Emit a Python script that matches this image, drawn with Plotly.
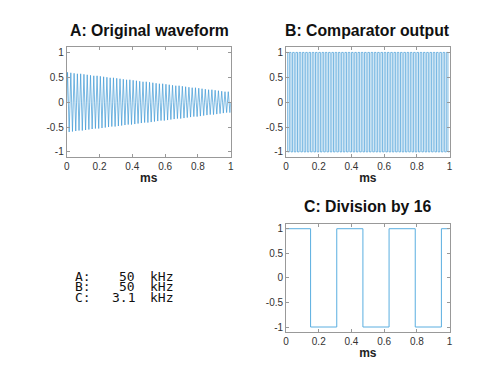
import plotly.graph_objects as go

# ---------------- data ----------------
# comparator edge times (ms): one every half period of a 50 kHz signal
edges_ms = [
    0.00, 0.01, 0.02, 0.03, 0.04, 0.05, 0.06, 0.07, 0.08, 0.09,
    0.10, 0.11, 0.12, 0.13, 0.14, 0.15, 0.16, 0.17, 0.18, 0.19,
    0.20, 0.21, 0.22, 0.23, 0.24, 0.25, 0.26, 0.27, 0.28, 0.29,
    0.30, 0.31, 0.32, 0.33, 0.34, 0.35, 0.36, 0.37, 0.38, 0.39,
    0.40, 0.41, 0.42, 0.43, 0.44, 0.45, 0.46, 0.47, 0.48, 0.49,
    0.50, 0.51, 0.52, 0.53, 0.54, 0.55, 0.56, 0.57, 0.58, 0.59,
    0.60, 0.61, 0.62, 0.63, 0.64, 0.65, 0.66, 0.67, 0.68, 0.69,
    0.70, 0.71, 0.72, 0.73, 0.74, 0.75, 0.76, 0.77, 0.78, 0.79,
    0.80, 0.81, 0.82, 0.83, 0.84, 0.85, 0.86, 0.87, 0.88, 0.89,
    0.90, 0.91, 0.92, 0.93, 0.94, 0.95, 0.96, 0.97, 0.98, 0.99,
    1.00,
]

# comparator output level in each half period
comparator_levels = [
    1, -1, 1, -1, 1, -1, 1, -1, 1, -1,
    1, -1, 1, -1, 1, -1, 1, -1, 1, -1,
    1, -1, 1, -1, 1, -1, 1, -1, 1, -1,
    1, -1, 1, -1, 1, -1, 1, -1, 1, -1,
    1, -1, 1, -1, 1, -1, 1, -1, 1, -1,
    1, -1, 1, -1, 1, -1, 1, -1, 1, -1,
    1, -1, 1, -1, 1, -1, 1, -1, 1, -1,
    1, -1, 1, -1, 1, -1, 1, -1, 1, -1,
    1, -1, 1, -1, 1, -1, 1, -1, 1, -1,
    1, -1, 1, -1, 1, -1, 1, -1, 1, -1,
]

# peak amplitude of the original waveform in each of the 50 cycles
cycle_amplitudes = [
    0.60, 0.59, 0.58, 0.57, 0.57, 0.56, 0.55, 0.54, 0.53, 0.53,
    0.52, 0.51, 0.50, 0.49, 0.49, 0.48, 0.47, 0.46, 0.45, 0.45,
    0.44, 0.43, 0.42, 0.41, 0.41, 0.40, 0.39, 0.38, 0.37, 0.37,
    0.36, 0.35, 0.34, 0.33, 0.33, 0.32, 0.31, 0.30, 0.29, 0.29,
    0.28, 0.27, 0.26, 0.25, 0.25, 0.24, 0.23, 0.22, 0.21, 0.21,
]

# divide-by-16 output
divider_edges_ms = [0.00, 0.15, 0.31, 0.47, 0.63, 0.79, 0.95, 1.00]
divider_levels = [1, -1, 1, -1, 1, -1, 1, 1]

x_ticks = [0, 0.2, 0.4, 0.6, 0.8, 1]
x_tick_labels = ["0", "0.2", "0.4", "0.6", "0.8", "1"]
y_ticks = [-1, -0.5, 0, 0.5, 1]
y_tick_labels = ["-1", "-0.5", "0", "0.5", "1"]

freq_labels = ["A:", "B:", "C:"]
freq_values = ["50", "50", "3.1"]
freq_unit = "kHz"

# ---------------- build traces ----------------
wave_x, wave_y = [], []
for i, lvl in enumerate(comparator_levels):
    t0, t1 = edges_ms[i], edges_ms[i + 1]
    wave_x += [t0, (t0 + t1) / 2]
    wave_y += [0, lvl * cycle_amplitudes[i // 2]]
wave_x.append(edges_ms[-1])
wave_y.append(0)

comp_y = comparator_levels + [comparator_levels[-1]]

LINE = dict(color="#3f9ad6", width=0.7)

fig = go.Figure()
fig.add_trace(go.Scatter(x=wave_x, y=wave_y, mode="lines", line=LINE,
                         xaxis="x", yaxis="y", showlegend=False))
fig.add_trace(go.Scatter(x=edges_ms, y=comp_y, mode="lines",
                         line=dict(LINE, shape="hv"),
                         xaxis="x2", yaxis="y2", showlegend=False))
fig.add_trace(go.Scatter(x=divider_edges_ms, y=divider_levels, mode="lines",
                         line=dict(color="#5aaee0", width=1, shape="hv"),
                         xaxis="x3", yaxis="y3", showlegend=False))

W, H = 500, 375


def px_x(p):
    return p / W


def px_y(p):
    return 1 - p / H


TICKFONT = dict(family="Liberation Sans, Arial, sans-serif", size=10, color="#333333")
AXCOL = "#999999"


def xax(domain, anchor):
    return dict(domain=domain, anchor=anchor, range=[0, 1],
                tickvals=x_ticks, ticktext=x_tick_labels,
                ticks="inside", ticklen=3, tickcolor=AXCOL, tickwidth=1,
                showline=True, linecolor=AXCOL, linewidth=1, mirror="ticks",
                showgrid=False, zeroline=False, tickfont=TICKFONT,
                title=dict(text="<b>ms</b>", standoff=2,
                           font=dict(family="Liberation Sans, Arial, sans-serif",
                                     size=12, color="#222222")))


def yax(domain, anchor):
    return dict(domain=domain, anchor=anchor, range=[-1.1, 1.1],
                tickvals=y_ticks, ticktext=y_tick_labels,
                ticks="inside", ticklen=3, tickcolor=AXCOL, tickwidth=1,
                showline=True, linecolor=AXCOL, linewidth=1, mirror="ticks",
                showgrid=False, zeroline=False, tickfont=TICKFONT)


top_dom = [px_y(156.7), px_y(46.7)]
bot_dom = [px_y(332.7), px_y(224)]
dom_a = [px_x(64.5), px_x(230.5)]
dom_b = [px_x(286.5), px_x(452)]

annotations = []
TITLEFONT = dict(family="Liberation Sans, Arial, sans-serif", size=15.8, color="#111111")
for text, cx, cy in [("A: Original waveform", 148.5, 30),
                     ("B: Comparator output", 369, 30),
                     ("C: Division by 16", 369, 207)]:
    annotations.append(dict(text="<b>%s</b>" % text, x=px_x(cx), y=px_y(cy),
                            xref="paper", yref="paper", showarrow=False,
                            xanchor="center", yanchor="middle", font=TITLEFONT))

MONO = dict(family="DejaVu Sans Mono, monospace", size=13, color="#111111")
for k in range(3):
    cy = 276.5 + 10.8 * k
    annotations.append(dict(text=freq_labels[k], x=px_x(70.5), y=px_y(cy),
                            xref="paper", yref="paper", showarrow=False,
                            xanchor="left", yanchor="middle", font=MONO))
    annotations.append(dict(text=freq_values[k], x=px_x(136), y=px_y(cy),
                            xref="paper", yref="paper", showarrow=False,
                            xanchor="right", yanchor="middle", font=MONO))
    annotations.append(dict(text=freq_unit, x=px_x(160), y=px_y(cy),
                            xref="paper", yref="paper", showarrow=False,
                            xanchor="center", yanchor="middle", font=MONO))

fig.update_layout(
    width=W, height=H,
    margin=dict(l=0, r=0, t=0, b=0),
    paper_bgcolor="white", plot_bgcolor="white",
    xaxis=xax(dom_a, "y"), yaxis=yax(top_dom, "x"),
    xaxis2=xax(dom_b, "y2"), yaxis2=yax(top_dom, "x2"),
    xaxis3=xax(dom_b, "y3"), yaxis3=yax(bot_dom, "x3"),
    annotations=annotations,
)

fig.write_html("out.html",
               config={"displayModeBar": False},
               post_script="document.body.style.margin='0';"
                           "document.body.style.overflow='hidden';")
